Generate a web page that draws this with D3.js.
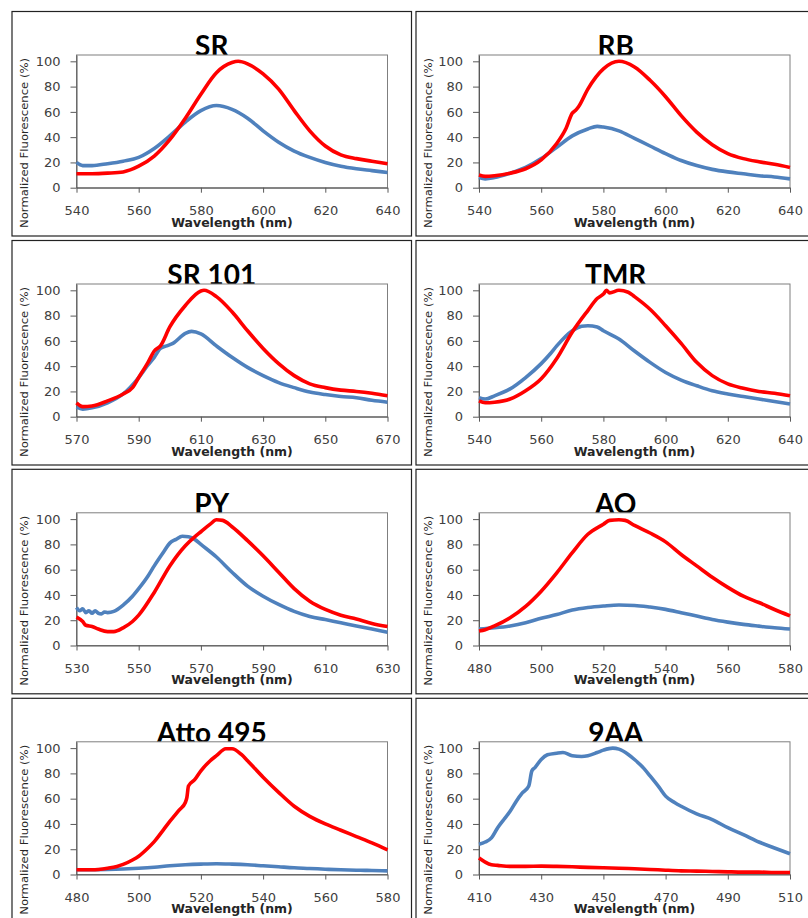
<!DOCTYPE html>
<html>
<head>
<meta charset="utf-8">
<script src="https://cdn.jsdelivr.net/npm/d3@7"></script>
<style>
    body { margin: 0; background: #fff; }
    svg { display: block; }
    .tick text { font-family: "DejaVu Sans", sans-serif; font-size: 13px; fill: #404040; }
</style>
</head>
<body>
<div id="chart"></div>
<script>
//Panel titles and wavelength range of each panel (left to right, top to bottom)
var panelTitles = ["SR", "RB", "SR 101", "TMR", "PY", "AO", "Atto 495", "9AA"];
var xDomains = [[540, 640], [540, 640], [570, 670], [540, 640], [530, 630], [480, 580], [480, 580], [410, 510]];
var yTicks = [0, 20, 40, 60, 80, 100];

//Spectra as [wavelength (nm), normalized fluorescence (%)]
var srRed = [[540, 11], [545, 11], [550, 11.5], [555, 12.5], [560, 17], [565, 25], [570, 38], [575, 55], [580, 74], [585, 91], [590, 99], [592, 100], [595, 98], [600, 90], [605, 78], [610, 61], [615, 45], [620, 33], [625, 26], [630, 23], [635, 21], [640, 19]];
var srBlue = [[540, 20], [542, 17.5], [545, 17.5], [550, 19], [555, 21], [560, 24], [565, 31], [570, 41], [575, 52], [580, 61], [585, 65], [590, 62], [595, 55], [600, 45], [605, 36], [610, 29], [615, 24], [620, 20], [625, 17], [630, 15], [635, 13.5], [640, 12]];

var rbRed = [[540, 10], [542, 9], [545, 9.5], [550, 11.5], [555, 15], [560, 22], [565, 35], [568, 47], [570, 59], [571, 61], [572, 64], [575, 78], [580, 94], [585, 100], [590, 95.5], [595, 85], [600, 72], [605, 57], [610, 44], [615, 34], [620, 27], [625, 23], [630, 20.5], [635, 18.5], [640, 16]];
var rbBlue = [[540, 8], [542, 7], [545, 8], [550, 11.5], [555, 16], [560, 23], [565, 32], [570, 41], [575, 46.5], [578, 48.5], [580, 48], [585, 45], [590, 39], [595, 33], [600, 27], [605, 21.5], [610, 17.5], [615, 14.5], [620, 12.5], [625, 11], [630, 9.5], [635, 8.5], [640, 7]];

var sr101Red = [[570, 11], [572, 8], [575, 8.5], [580, 12.5], [585, 18], [588, 23], [590, 31], [593, 43], [595, 52], [597, 56], [600, 71], [605, 88], [610, 99.5], [611, 100], [615, 95], [620, 83], [625, 68], [630, 54], [635, 42], [640, 32.5], [645, 26], [650, 23], [655, 21], [660, 20], [665, 18.5], [670, 16.5]];
var sr101Blue = [[570, 7.5], [572, 6], [575, 7], [580, 11], [585, 18], [590, 31], [593, 41], [595, 47], [597, 54], [599, 56], [601, 58], [605, 66], [607, 67.5], [610, 65.5], [615, 56], [620, 47], [625, 39], [630, 32.5], [635, 27], [640, 23], [645, 19.5], [650, 17.5], [655, 16], [660, 15], [665, 13], [670, 11.5]];

var tmrRed = [[540, 12.5], [542, 11], [545, 11.5], [550, 14], [555, 20.5], [560, 30], [565, 46], [570, 67], [575, 84], [578, 93.5], [580, 97], [581, 100], [582, 98], [585, 100], [588, 98.5], [590, 95], [595, 85], [600, 72], [605, 58], [610, 43], [615, 32.5], [620, 26], [625, 22.5], [630, 20], [635, 18.5], [640, 16.5]];
var tmrBlue = [[540, 15], [542, 14], [545, 16.5], [550, 22], [555, 31], [560, 42], [563, 50], [565, 56], [570, 68], [573, 71.5], [575, 72], [578, 71], [580, 68], [585, 61.5], [590, 52], [595, 43], [600, 35], [605, 29], [610, 24.5], [615, 20.5], [620, 18], [625, 16], [630, 14], [635, 12], [640, 10]];

var pyRed = [[530, 22.5], [532, 19], [533, 16], [535, 15], [537, 13], [540, 11], [542, 11], [545, 14], [548, 19], [550, 24], [555, 42], [560, 63], [565, 79], [568, 86], [570, 90], [573, 96], [575, 99.5], [577, 99], [580, 94], [585, 83], [590, 71], [595, 58], [600, 45], [605, 35], [610, 28.5], [615, 24], [620, 21], [625, 17.5], [630, 15]];
var pyBlue = [[530, 30], [531, 27.5], [532, 29], [533, 26], [534, 27.5], [535, 25.5], [536, 27.5], [537, 25.5], [538, 25], [539, 26.5], [540, 26], [542, 27], [545, 32], [548, 39], [550, 45], [553, 55], [555, 63], [558, 74], [560, 81], [562, 84], [564, 86.5], [566, 86], [568, 84], [570, 80], [575, 70], [580, 58], [585, 47], [590, 39], [595, 32.5], [600, 27], [605, 23], [610, 20.5], [615, 18], [620, 15.5], [625, 13], [630, 10.5]];

var aoRed = [[480, 11.5], [482, 12.5], [485, 15.5], [490, 22], [495, 31], [500, 43], [505, 57.5], [510, 73.5], [515, 88], [520, 96], [522, 99], [525, 99.5], [527, 99], [530, 95], [535, 89], [540, 82], [545, 72], [550, 63], [555, 54], [560, 46], [565, 39], [570, 34], [575, 28.5], [580, 23.5]];
var aoBlue = [[480, 13], [485, 14], [490, 15.5], [495, 18], [500, 21.5], [505, 24.5], [510, 28], [515, 30], [520, 31.2], [525, 32], [530, 31.7], [535, 30.4], [540, 28.6], [545, 26], [550, 23.3], [555, 20.6], [560, 18.5], [565, 16.7], [570, 15.3], [575, 14], [580, 13]];

var attoRed = [[480, 3.7], [485, 3.7], [490, 5], [493, 6.4], [495, 8], [498, 11.5], [500, 14.5], [503, 21], [505, 26], [508, 35.5], [510, 42], [513, 51], [515, 57], [515.5, 61], [516, 70], [518, 75], [520, 82], [523, 90], [525, 94], [528, 99.5], [530, 99.5], [533, 95], [535, 90], [540, 77], [545, 65], [550, 54], [555, 46], [560, 40], [565, 35], [570, 30], [575, 25], [580, 19.5]];
var attoBlue = [[480, 3.7], [490, 4], [500, 5], [505, 5.8], [510, 6.9], [515, 7.7], [520, 8.2], [525, 8.5], [530, 8.2], [535, 7.7], [540, 6.9], [545, 6.1], [550, 5.3], [555, 4.8], [560, 4.2], [565, 3.7], [570, 3.4], [575, 3.2], [580, 2.9]];

var aaRed = [[410, 13], [412, 9.8], [414, 7.7], [416, 7.2], [420, 6.4], [425, 6.4], [430, 6.6], [435, 6.4], [440, 6.1], [445, 5.6], [450, 5.3], [455, 5], [460, 4.5], [465, 4], [470, 3.4], [475, 2.9], [480, 2.7], [485, 2.4], [490, 2.1], [495, 1.9], [500, 1.9], [505, 1.6], [510, 1.6]];
var aaBlue = [[410, 24], [412, 25.7], [414, 29], [416, 37], [418, 43.5], [420, 50], [422, 58], [424, 64.7], [426, 70], [427, 82], [428, 84.6], [430, 91], [432, 94.7], [435, 96], [437, 96.5], [440, 94], [443, 93.4], [445, 94], [448, 96.5], [450, 98.4], [453, 100], [455, 99.2], [458, 95], [460, 91], [463, 84], [465, 78], [468, 68.7], [470, 62], [473, 56.8], [475, 54], [480, 48], [485, 43.5], [490, 37], [495, 31.6], [500, 25.7], [505, 21], [510, 16.4]];

var redSeries = [srRed, rbRed, sr101Red, tmrRed, pyRed, aoRed, attoRed, aaRed];
var blueSeries = [srBlue, rbBlue, sr101Blue, tmrBlue, pyBlue, aoBlue, attoBlue, aaBlue];

//LAYOUT
var width = 808, height = 918;
var boxX = [12, 416];
var boxY = [11.5, 240.5, 469.3, 698.3];
var boxW = 399.5, boxH = 224.5;
var plotLeft = [64.5, 63];
var plotTop = 43.5, plotW = 311, plotH = 132.7;

var svg = d3.select('#chart').append('svg')
    .attr('width', width)
    .attr('height', height);

svg.append('rect')
    .attr('width', width).attr('height', height)
    .attr('fill', '#fff');

//draws one spectrum panel
function drawPanel(i) {
    var col = i % 2;
    var row = Math.floor(i / 2);
    var bx = boxX[col], by = boxY[row];

    var g = svg.append('g').attr('transform', 'translate(' + bx + ',' + by + ')');

    //outer box
    g.append('rect')
        .attr('width', boxW).attr('height', boxH)
        .attr('fill', 'none')
        .attr('stroke', '#222')
        .attr('stroke-width', 1.2);

    //title (bottom slightly hidden by the plot area, as in the original)
    g.append('text')
        .attr('x', boxW / 2)
        .attr('y', plotTop + 1)
        .attr('text-anchor', 'middle')
        .style('font-family', 'Lato, sans-serif')
        .style('font-weight', 'bold')
        .style('font-size', '28px')
        .attr('fill', '#000')
        .text(panelTitles[i]);

    var px = plotLeft[col];
    var plot = g.append('g').attr('transform', 'translate(' + px + ',' + plotTop + ')');

    var x = d3.scaleLinear().domain(xDomains[i]).range([0, plotW]);
    var y = d3.scaleLinear().domain([0, 105]).range([plotH, 0]);

    plot.append('rect')
        .attr('width', plotW).attr('height', plotH)
        .attr('fill', '#fff')
        .attr('stroke', '#7f7f7f')
        .attr('stroke-width', 1);

    var xAxis = d3.axisBottom(x)
        .tickValues(d3.range(xDomains[i][0], xDomains[i][1] + 1, 20))
        .tickSize(5).tickSizeOuter(0).tickPadding(13.5);
    var yAxis = d3.axisLeft(y)
        .tickValues(yTicks)
        .tickSize(6).tickSizeOuter(0).tickPadding(10);

    var xa = plot.append('g').attr('transform', 'translate(0,' + plotH + ')').call(xAxis);
    var ya = plot.append('g').call(yAxis);
    xa.selectAll('path, line').attr('stroke', '#595959');
    ya.selectAll('path, line').attr('stroke', '#595959');

    var line = d3.line()
        .x(function (d) { return x(d[0]); })
        .y(function (d) { return y(d[1]); })
        .curve(d3.curveMonotoneX);

    //blue first, red drawn on top
    plot.append('path')
        .datum(blueSeries[i])
        .attr('d', line)
        .attr('fill', 'none')
        .attr('stroke', '#4F81BD')
        .attr('stroke-width', 3.6)
        .attr('stroke-linejoin', 'round');

    plot.append('path')
        .datum(redSeries[i])
        .attr('d', line)
        .attr('fill', 'none')
        .attr('stroke', '#FF0000')
        .attr('stroke-width', 3.6)
        .attr('stroke-linejoin', 'round');

    //axis titles
    plot.append('text')
        .attr('x', plotW / 2)
        .attr('y', plotH + 39)
        .attr('text-anchor', 'middle')
        .style('font-family', '"DejaVu Sans", sans-serif')
        .style('font-weight', 'bold')
        .style('font-size', '12.5px')
        .attr('fill', '#262626')
        .text('Wavelength (nm)');

    g.append('text')
        .attr('transform', 'translate(16,131.5) rotate(-90)')
        .attr('text-anchor', 'middle')
        .attr('textLength', 170)
        .attr('lengthAdjust', 'spacingAndGlyphs')
        .style('font-family', '"DejaVu Sans", sans-serif')
        .style('font-size', '10.5px')
        .attr('fill', '#262626')
        .text('Normalized Fluorescence (%)');
}

for (var i = 0; i < panelTitles.length; i++) {
    drawPanel(i);
}
</script>
</body>
</html>
